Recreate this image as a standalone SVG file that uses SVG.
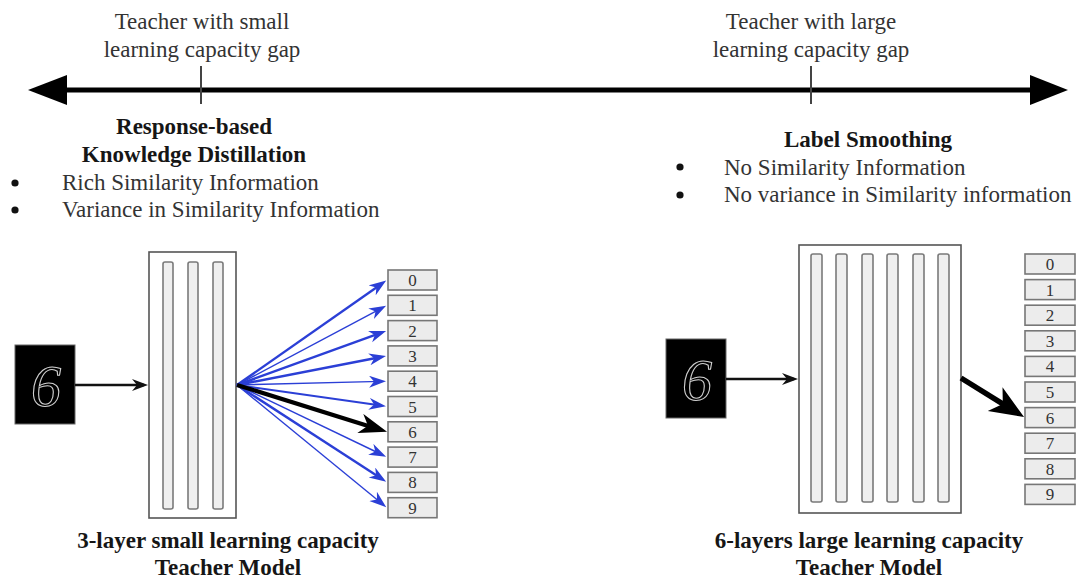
<svg xmlns="http://www.w3.org/2000/svg" width="1080" height="578" viewBox="0 0 1080 578">
<style>
.t{font-family:"Liberation Serif","Times New Roman",serif;font-size:23px;fill:#333}
.b{font-family:"Liberation Serif","Times New Roman",serif;font-size:23px;font-weight:bold;fill:#161616}
.m{text-anchor:middle}
.d{font-family:"Liberation Serif","Times New Roman",serif;font-size:17px;fill:#333;text-anchor:middle}
.ob{fill:#ececec;stroke:#777;stroke-width:1.6}
.bar{fill:#efefef;stroke:#7a7a7a;stroke-width:1.6}
.big{fill:#fff;stroke:#555;stroke-width:1.6}
.img{fill:#000;stroke:#666;stroke-width:1}
.dig{font-family:"Liberation Serif","Times New Roman",serif;font-style:italic;font-size:60px;fill:none;stroke:#cfcfcf;stroke-width:1.1;text-anchor:middle}
.bl{stroke:#2b3fd6;fill:none}
</style>
<defs>
<marker id="hb" markerUnits="userSpaceOnUse" markerWidth="20" markerHeight="14" refX="12" refY="6" orient="auto"><path d="M0,0 L17,6 L0,12 L5,6 z" fill="#2b3fd6"/></marker>
<marker id="hk" markerUnits="userSpaceOnUse" markerWidth="30" markerHeight="22" refX="20" refY="10" orient="auto"><path d="M0,0 L28,10 L0,20 L8,10 z" fill="#000"/></marker>
<marker id="hk2" markerUnits="userSpaceOnUse" markerWidth="36" markerHeight="30" refX="25" refY="14" orient="auto"><path d="M0,0 L34,14 L0,28 L9,14 z" fill="#000"/></marker>
<marker id="hi" markerUnits="userSpaceOnUse" markerWidth="20" markerHeight="14" refX="12" refY="6" orient="auto"><path d="M0,0 L16,6 L0,12 L5,6 z" fill="#111"/></marker>
</defs>
<rect width="1080" height="578" fill="#fff"/>

<g id="axis">
<line x1="60" y1="90" x2="1035" y2="90" stroke="#000" stroke-width="5"/>
<polygon points="28,90 67,75 67,105" fill="#000"/>
<polygon points="1068,90 1030,75 1030,105" fill="#000"/>
<line x1="201" y1="66" x2="201" y2="104" stroke="#444" stroke-width="2"/>
<line x1="811" y1="66" x2="811" y2="104" stroke="#444" stroke-width="2"/>
</g>

<g id="label-small-gap">
<text class="t m" x="202" y="29">Teacher with small</text>
<text class="t m" x="202" y="57">learning capacity gap</text>
</g>
<g id="label-large-gap">
<text class="t m" x="811" y="29">Teacher with large</text>
<text class="t m" x="811" y="57">learning capacity gap</text>
</g>

<g id="response-kd">
<text class="b m" x="194" y="134">Response-based</text>
<text class="b m" x="194" y="162">Knowledge Distillation</text>
<circle cx="15" cy="183" r="3.6" fill="#111"/>
<text class="t" x="62" y="190">Rich Similarity Information</text>
<circle cx="15" cy="210" r="3.6" fill="#111"/>
<text class="t" x="62" y="217">Variance in Similarity Information</text>
</g>

<g id="label-smoothing">
<text class="b m" x="868" y="147">Label Smoothing</text>
<circle cx="680" cy="167" r="3.6" fill="#111"/>
<text class="t" x="724" y="175">No Similarity Information</text>
<circle cx="680" cy="195" r="3.6" fill="#111"/>
<text class="t" x="724" y="202">No variance in Similarity information</text>
</g>

<g id="input-left">
<rect class="img" x="15" y="345" width="60" height="79"/>
<text class="dig" x="46" y="406">6</text>
</g>
<g id="teacher-small">
<rect class="big" x="149" y="252" width="87" height="266"/>
<rect class="bar" x="163" y="262" width="10" height="247" rx="2"/>
<rect class="bar" x="188" y="262" width="10" height="247" rx="2"/>
<rect class="bar" x="213" y="262" width="10" height="247" rx="2"/>
</g>
<g id="outputs-left">
<rect class="ob" x="388" y="270" width="49" height="20"/><text class="d" x="412.5" y="286">0</text>
<rect class="ob" x="388" y="295.3" width="49" height="20"/><text class="d" x="412.5" y="311.3">1</text>
<rect class="ob" x="388" y="320.6" width="49" height="20"/><text class="d" x="412.5" y="336.6">2</text>
<rect class="ob" x="388" y="345.9" width="49" height="20"/><text class="d" x="412.5" y="361.9">3</text>
<rect class="ob" x="388" y="371.2" width="49" height="20"/><text class="d" x="412.5" y="387.2">4</text>
<rect class="ob" x="388" y="396.5" width="49" height="20"/><text class="d" x="412.5" y="412.5">5</text>
<rect class="ob" x="388" y="421.8" width="49" height="20"/><text class="d" x="412.5" y="437.8">6</text>
<rect class="ob" x="388" y="447.1" width="49" height="20"/><text class="d" x="412.5" y="463.1">7</text>
<rect class="ob" x="388" y="472.4" width="49" height="20"/><text class="d" x="412.5" y="488.4">8</text>
<rect class="ob" x="388" y="497.7" width="49" height="20"/><text class="d" x="412.5" y="513.7">9</text>
</g>
<g id="caption-left">
<text class="b m" x="228" y="548">3-layer small learning capacity</text>
<text class="b m" x="228" y="575">Teacher Model</text>
</g>

<g id="input-right">
<rect class="img" x="666" y="339" width="60" height="79"/>
<text class="dig" x="697" y="400">6</text>
</g>
<g id="teacher-large">
<rect class="big" x="799" y="245" width="162" height="268"/>
<rect class="bar" x="811" y="254" width="11" height="248" rx="2"/>
<rect class="bar" x="836" y="254" width="11" height="248" rx="2"/>
<rect class="bar" x="862" y="254" width="11" height="248" rx="2"/>
<rect class="bar" x="887" y="254" width="11" height="248" rx="2"/>
<rect class="bar" x="913" y="254" width="11" height="248" rx="2"/>
<rect class="bar" x="938" y="254" width="11" height="248" rx="2"/>
</g>
<g id="outputs-right">
<rect class="ob" x="1025" y="254" width="50" height="20"/><text class="d" x="1050" y="270">0</text>
<rect class="ob" x="1025" y="279.6" width="50" height="20"/><text class="d" x="1050" y="295.6">1</text>
<rect class="ob" x="1025" y="305.2" width="50" height="20"/><text class="d" x="1050" y="321.2">2</text>
<rect class="ob" x="1025" y="330.8" width="50" height="20"/><text class="d" x="1050" y="346.8">3</text>
<rect class="ob" x="1025" y="356.4" width="50" height="20"/><text class="d" x="1050" y="372.4">4</text>
<rect class="ob" x="1025" y="382" width="50" height="20"/><text class="d" x="1050" y="398">5</text>
<rect class="ob" x="1025" y="407.6" width="50" height="20"/><text class="d" x="1050" y="423.6">6</text>
<rect class="ob" x="1025" y="433.2" width="50" height="20"/><text class="d" x="1050" y="449.2">7</text>
<rect class="ob" x="1025" y="458.8" width="50" height="20"/><text class="d" x="1050" y="474.8">8</text>
<rect class="ob" x="1025" y="484.4" width="50" height="20"/><text class="d" x="1050" y="500.4">9</text>
</g>
<g id="caption-right">
<text class="b m" x="869" y="548">6-layers large learning capacity</text>
<text class="b m" x="869" y="575">Teacher Model</text>
</g>

<g id="connectors">
<line x1="75" y1="385" x2="144" y2="385" stroke="#111" stroke-width="2.6" marker-end="url(#hi)"/>
<line x1="726" y1="379" x2="794" y2="379" stroke="#111" stroke-width="2.6" marker-end="url(#hi)"/>
<line class="bl" x1="237" y1="385" x2="382.1" y2="283.4" stroke-width="2.4" marker-end="url(#hb)"/>
<line class="bl" x1="237" y1="385" x2="381.7" y2="308.1" stroke-width="1.4" marker-end="url(#hb)"/>
<line class="bl" x1="237" y1="385" x2="381.4" y2="332.6" stroke-width="2.4" marker-end="url(#hb)"/>
<line class="bl" x1="237" y1="385" x2="381.1" y2="357.0" stroke-width="2.4" marker-end="url(#hb)"/>
<line class="bl" x1="237" y1="385" x2="381" y2="381.4" stroke-width="1.4" marker-end="url(#hb)"/>
<line class="bl" x1="237" y1="385" x2="381" y2="405.6" stroke-width="2" marker-end="url(#hb)"/>
<line class="bl" x1="237" y1="385" x2="381.6" y2="454.5" stroke-width="1.4" marker-end="url(#hb)"/>
<line class="bl" x1="237" y1="385" x2="382" y2="479.1" stroke-width="2.4" marker-end="url(#hb)"/>
<line class="bl" x1="237" y1="385" x2="382.4" y2="504.0" stroke-width="1.4" marker-end="url(#hb)"/>
<line x1="237" y1="385" x2="379.4" y2="429.4" stroke="#000" stroke-width="4.2" marker-end="url(#hk)"/>
<line x1="961" y1="378" x2="1016.4" y2="412.3" stroke="#000" stroke-width="5.5" marker-end="url(#hk2)"/>
</g>
</svg>
